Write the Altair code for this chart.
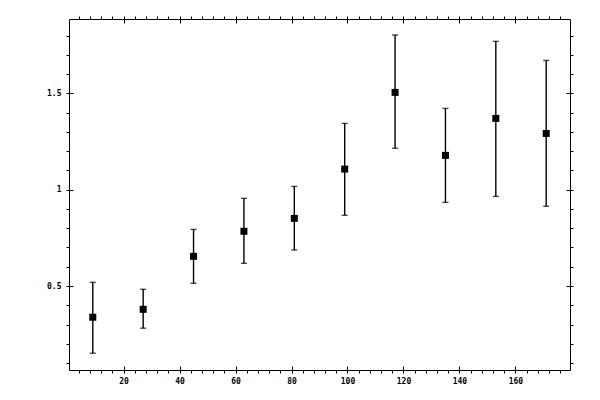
import altair as alt
import pandas as pd

xs = [9, 27, 45, 63, 81, 99, 117, 135, 153, 171]
ys = [0.338, 0.379, 0.654, 0.784, 0.851, 1.107, 1.505, 1.178, 1.370, 1.292]
hi = [0.519, 0.483, 0.794, 0.955, 1.017, 1.344, 1.803, 1.422, 1.770, 1.671]
lo = [0.151, 0.281, 0.514, 0.618, 0.687, 0.867, 1.215, 0.934, 0.965, 0.914]

x_major = [20, 40, 60, 80, 100, 120, 140, 160]
x_minor = [4, 8, 12, 16, 24, 28, 32, 36, 44, 48, 52, 56, 64, 68, 72, 76,
           84, 88, 92, 96, 104, 108, 112, 116, 124, 128, 132, 136,
           144, 148, 152, 156, 164, 168, 172, 176]
y_major = [0.5, 1.0, 1.5]
y_minor = [0.1, 0.2, 0.3, 0.4, 0.6, 0.7, 0.8, 0.9, 1.1, 1.2, 1.3, 1.4,
           1.6, 1.7, 1.8]

df = pd.DataFrame({"x": xs, "y": ys, "hi": hi, "lo": lo})

xscale = alt.Scale(domain=[0.5, 179.5], nice=False, zero=False)
yscale = alt.Scale(domain=[0.064, 1.886], nice=False, zero=False)

FONT = "DejaVu Sans Mono"
common = dict(grid=False, tickColor="black", domainColor="black", tickWidth=1,
              domainWidth=1, labelColor="black", labelFont=FONT, labelFontSize=8,
              labelFontWeight="bold", title=None)


def minor(orient, values):
    return alt.Axis(orient=orient, values=values, tickSize=3, labels=False,
                    domain=True, **common)


def major(orient, values, labels, fmt="~g"):
    kw = dict(orient=orient, values=values, tickSize=7, offset=-4,
              domain=False, labels=labels, **common)
    if labels:
        kw.update(format=fmt, labelPadding=4 if orient == "bottom" else 5)
    return alt.Axis(**kw)


base = alt.Chart(df)

bars = base.mark_rule(color="black", strokeWidth=1.4).encode(
    x=alt.X("x:Q", scale=xscale, axis=minor("bottom", x_minor)),
    y=alt.Y("lo:Q", scale=yscale, axis=minor("left", y_minor)),
    y2="hi:Q",
)

cap_hi = base.mark_tick(color="black", orient="horizontal", size=6, thickness=1.4).encode(
    x=alt.X("x:Q", scale=xscale, axis=major("bottom", x_major, True, "d")),
    y=alt.Y("hi:Q", scale=yscale, axis=major("left", y_major, True, "~g")),
)

cap_lo = base.mark_tick(color="black", orient="horizontal", size=6, thickness=1.4).encode(
    x=alt.X("x:Q", scale=xscale, axis=minor("top", x_minor)),
    y=alt.Y("lo:Q", scale=yscale, axis=minor("right", y_minor)),
)

pts = base.mark_square(color="black", size=49, opacity=1).encode(
    x=alt.X("x:Q", scale=xscale, axis=major("top", x_major, False)),
    y=alt.Y("y:Q", scale=yscale, axis=major("right", y_major, False)),
)

chart = (
    alt.layer(bars, cap_hi, cap_lo, pts)
    .resolve_axis(x="independent", y="independent")
    .properties(
        width=501,
        height=351,
        autosize=alt.AutoSizeParams(type="none"),
        padding={"left": 61, "top": 11, "right": 20, "bottom": 20},
        background="white",
    )
    .configure_view(stroke=None)
)

chart.save("out.html", embed_options={"renderer": "svg", "actions": False})
